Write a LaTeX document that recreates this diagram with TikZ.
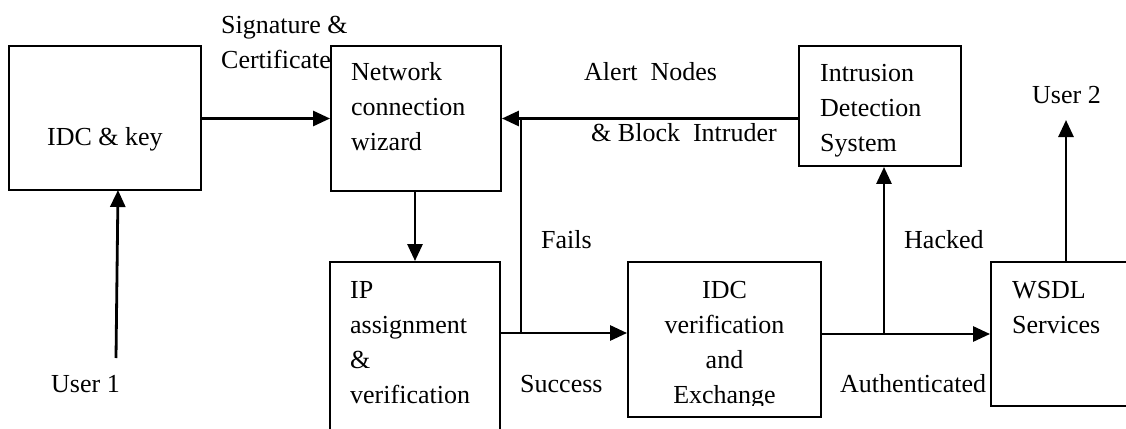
\documentclass[tikz,border=0pt]{standalone}
\usepackage{fontspec}
\setmainfont{Liberation Serif}
\usetikzlibrary{arrows.meta}
\tikzset{
  box/.style={draw, line width=1.9pt, inner sep=0pt},
  arr/.style={line width=2.8pt, -{Triangle[length=17pt,width=15pt]}},
  conn/.style={line width=2.8pt},
  txt/.style={font=\fontsize{26}{35}\selectfont, inner sep=0pt, anchor=base west, align=left},
}
\begin{document}
\begin{tikzpicture}[x=1pt,y=-1pt]
\useasboundingbox (0,0) rectangle (1126,428);
\clip (0,0) rectangle (1126,428);
% boxes
\node[box, minimum width=192pt, minimum height=144pt] (idc) at (105,118) {};
\node[box, minimum width=170pt, minimum height=145pt] (ncw) at (416,118.5) {};
\node[box, minimum width=162pt, minimum height=120pt] (ids) at (880,106) {};
\node[box, minimum width=170pt, minimum height=198pt] (ip) at (415,361) {};
\node[box, minimum width=193pt, minimum height=155pt] (idcv) at (724.5,339.5) {};
\node[box, minimum width=169pt, minimum height=144pt] (wsdl) at (1075.5,334) {};
% texts in boxes (base = last line)
\node[txt] (tidc) at (47,145) {IDC \& key};
\node[txt] (tncw) at (351,150) {Network\\connection\\wizard};
\node[txt] (tids) at (820,151) {Intrusion\\Detection\\System};
\node[txt] (tip) at (350,403) {IP\\assignment\\\&\\verification};
\begin{scope}
\clip (628,262) rectangle (821,405);
\node[txt, anchor=base, align=center] (tidcv) at (724.5,403) {IDC\\verification\\and\\Exchange};
\end{scope}
\node[txt] (twsdl) at (1012,333) {WSDL\\Services};
% labels
\node[txt] (sig) at (221,68) {Signature \&\\Certificate};
\node[txt] (alert) at (584,81) {Alert\ \ Nodes};
\node[txt] (block) at (591,141) {\& Block\ \ Intruder};
\node[txt] (fails) at (541,248) {Fails};
\node[txt] (succ) at (520,392) {Success};
\node[txt] (hack) at (904,248) {Hacked};
\node[txt] (auth) at (840,392) {Authenticated};
\node[txt] (user2) at (1032,103) {User 2};
\node[txt] (user1) at (51,392) {User 1};
% coordinates
\coordinate (j1) at (521,333);
\coordinate (j2) at (884,334);
\coordinate (u2) at (1066,120);
\coordinate (u1) at (116,358);
\coordinate (u1t) at (118,190);
% connectors
\draw[arr] (idc.east |- ncw.east) -- (ncw.west);
\draw[arr] (ids.west |- ncw.east) -- (ncw.east);
\draw[arr] (ncw.south -| ip.north) -- (ip.north);
\draw[conn] (j1) -- (j1 |- ncw.east);
\draw[arr] (ip.east |- j1) -- (idcv.west |- j1);
\draw[arr] (idcv.east |- j2) -- (wsdl.west |- j2);
\draw[arr] (j2) -- (j2 |- ids.south);
\draw[arr] (wsdl.north -| u2) -- (u2);
\draw[arr] (u1) -- (u1t);
\end{tikzpicture}
\end{document}
